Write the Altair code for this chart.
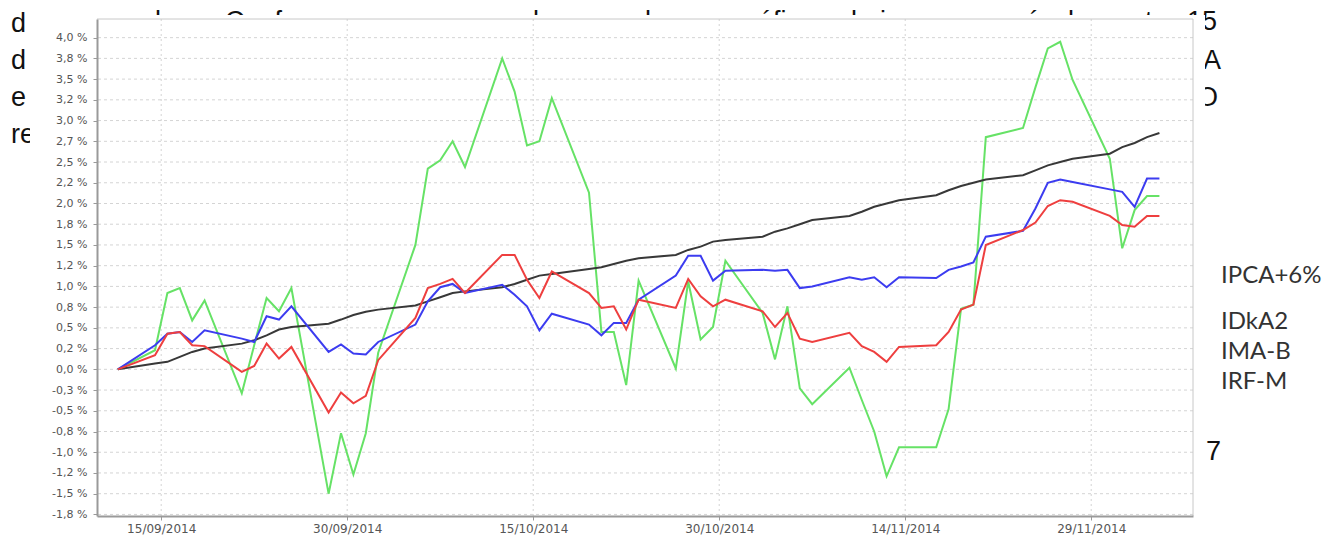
import altair as alt
import pandas as pd

# ---------------- data ----------------
dates = [
    "2014-09-12", "2014-09-15", "2014-09-16", "2014-09-17", "2014-09-18", "2014-09-19",
    "2014-09-22", "2014-09-23", "2014-09-24", "2014-09-25", "2014-09-26",
    "2014-09-29", "2014-09-30", "2014-10-01", "2014-10-02", "2014-10-03",
    "2014-10-06", "2014-10-07", "2014-10-08", "2014-10-09", "2014-10-10",
    "2014-10-13", "2014-10-14", "2014-10-15", "2014-10-16", "2014-10-17",
    "2014-10-20", "2014-10-21", "2014-10-22", "2014-10-23", "2014-10-24",
    "2014-10-27", "2014-10-28", "2014-10-29", "2014-10-30", "2014-10-31",
    "2014-11-03", "2014-11-04", "2014-11-05", "2014-11-06", "2014-11-07",
    "2014-11-10", "2014-11-11", "2014-11-12", "2014-11-13", "2014-11-14",
    "2014-11-17", "2014-11-18", "2014-11-19", "2014-11-20", "2014-11-21",
    "2014-11-24", "2014-11-25", "2014-11-26", "2014-11-27", "2014-11-28",
    "2014-12-01", "2014-12-02", "2014-12-03", "2014-12-04", "2014-12-05",
]

ipca6 = [
    0.00, 0.07, 0.09, 0.15, 0.21, 0.25,
    0.31, 0.35, 0.41, 0.48, 0.51,
    0.55, 0.60, 0.655, 0.695, 0.72,
    0.77, 0.82, 0.87, 0.92, 0.94,
    0.99, 1.03, 1.08, 1.13, 1.15,
    1.21, 1.23, 1.27, 1.31, 1.34,
    1.38, 1.44, 1.48, 1.54, 1.56,
    1.60, 1.66, 1.70, 1.75, 1.80,
    1.85, 1.90, 1.96, 2.00, 2.04,
    2.10, 2.16, 2.21, 2.25, 2.29,
    2.34, 2.40, 2.46, 2.50, 2.54,
    2.60, 2.68, 2.73, 2.80, 2.85,
]

idka2 = [
    0.00, 0.29, 0.43, 0.45, 0.33, 0.47,
    0.37, 0.33, 0.64, 0.60, 0.76,
    0.21, 0.30, 0.19, 0.18, 0.33,
    0.54, 0.82, 0.99, 1.03, 0.92,
    1.02, 0.90, 0.76, 0.47, 0.67,
    0.54, 0.41, 0.56, 0.56, 0.84,
    1.13, 1.37, 1.37, 1.07, 1.19,
    1.20, 1.19, 1.20, 0.98, 1.00,
    1.11, 1.08, 1.11, 0.99, 1.11,
    1.10, 1.20, 1.24, 1.29, 1.60,
    1.67, 1.94, 2.25, 2.29, 2.26,
    2.17, 2.14, 1.96, 2.30, 2.30,
]

imab = [
    0.00, 0.23, 0.92, 0.98, 0.59, 0.83,
    -0.29, 0.29, 0.86, 0.70, 0.98,
    -1.50, -0.77, -1.27, -0.77, 0.20,
    1.50, 2.42, 2.52, 2.75, 2.44,
    3.75, 3.35, 2.70, 2.75, 3.27,
    2.13, 0.45, 0.45, -0.19, 1.07,
    0.01, 1.06, 0.36, 0.51, 1.31,
    0.68, 0.12, 0.76, -0.23, -0.42,
    0.02, -0.37, -0.75, -1.29, -0.94,
    -0.94, -0.48, 0.73, 0.78, 2.80,
    2.91, 3.40, 3.87, 3.95, 3.49,
    2.54, 1.46, 1.92, 2.09, 2.09,
]

irfm = [
    0.00, 0.17, 0.43, 0.45, 0.29, 0.28,
    -0.03, 0.04, 0.31, 0.13, 0.27,
    -0.52, -0.28, -0.41, -0.32, 0.11,
    0.62, 0.98, 1.03, 1.09, 0.92,
    1.38, 1.38, 1.08, 0.86, 1.18,
    0.92, 0.74, 0.76, 0.48, 0.84,
    0.74, 1.09, 0.88, 0.76, 0.84,
    0.70, 0.51, 0.68, 0.37, 0.33,
    0.44, 0.28, 0.21, 0.09, 0.27,
    0.29, 0.45, 0.72, 0.78, 1.50,
    1.68, 1.77, 1.97, 2.04, 2.02,
    1.85, 1.74, 1.72, 1.85, 1.85,
]

series_names = ["IMA-B", "IPCA+6%", "IDkA2", "IRF-M"]
series_values = [imab, ipca6, idka2, irfm]
series_colors = ["#66e266", "#383838", "#3c3cf0", "#ee3f3f"]

legend_labels = ["IPCA+6%", "IDkA2", "IMA-B", "IRF-M"]

y_ticks = [4.0, 3.75, 3.5, 3.25, 3.0, 2.75, 2.5, 2.25, 2.0, 1.75, 1.5, 1.25, 1.0,
           0.75, 0.5, 0.25, 0.0, -0.25, -0.5, -0.75, -1.0, -1.25, -1.5, -1.75]
y_tick_labels = ["4,0 %", "3,8 %", "3,5 %", "3,2 %", "3,0 %", "2,7 %", "2,5 %", "2,2 %",
                 "2,0 %", "1,8 %", "1,5 %", "1,2 %", "1,0 %", "0,8 %", "0,5 %", "0,2 %",
                 "0,0 %", "-0,3 %", "-0,5 %", "-0,8 %", "-1,0 %", "-1,2 %", "-1,5 %", "-1,8 %"]

x_tick_dates = ["2014-09-15T12:00:00", "2014-09-30T12:00:00", "2014-10-15T12:00:00",
                "2014-10-30T12:00:00", "2014-11-14T12:00:00", "2014-11-29T12:00:00"]

# text of the document page that is partly hidden behind the chart picture
doc_top_words = ["lo", "Conforme", "lo", "do", "gráfico", "lo", "i", "é", "do", "te", "15"]
doc_left = ["d", "d", "e", "re"]
doc_right = ["A", "O"]
doc_lower = "7"

# ---------------- build ----------------
W, H = 1096, 497

def dt(s):
    t = pd.Timestamp(s)
    return alt.DateTime(year=t.year, month=t.month, date=t.day, hours=t.hour, minutes=t.minute)

x_scale = alt.Scale(domain=[dt("2014-09-10T07:45:00"), dt("2014-12-07T17:00:00")], nice=False)
y_scale = alt.Scale(domain=[-1.769, 4.225], nice=False, zero=False)

labels_js = "[" + ",".join("'" + s + "'" for s in y_tick_labels) + "]"
ticks_js = "[" + ",".join(repr(v) for v in y_ticks) + "]"

y_axis = alt.Axis(values=y_ticks, labelExpr=f"{labels_js}[indexof({ticks_js}, datum.value)]",
                  title=None, grid=False, zindex=1, domainColor="#9a9a9a", domainWidth=2,
                  tickColor="#9a9a9a", tickSize=4, labelPadding=6, labelColor="#555555",
                  labelFont="DejaVu Sans", labelFontSize=11)
x_axis = alt.Axis(values=[dt(s) for s in x_tick_dates], format="%d/%m/%Y", title=None,
                  grid=False, zindex=1, domainColor="#9a9a9a", domainWidth=2,
                  tickColor="#9a9a9a", tickSize=4, labelPadding=3, labelColor="#555555",
                  labelFont="DejaVu Sans", labelFontSize=12)

base = alt.Chart(pd.DataFrame({"k": [0]}))
DOC = dict(baseline="alphabetic", font="Liberation Sans", fontSize=27, color="#111111")

layers = []

# document text that sits behind the chart picture
top_x = [58, 128, 436, 539, 637, 754, 783, 928, 962, 1048, 1090]
for s, xx in zip(doc_top_words, top_x):
    layers.append(base.mark_text(text=s, align="left", **DOC)
                  .encode(x=alt.value(xx), y=alt.value(11)))
for i, s in enumerate(doc_left):
    layers.append(base.mark_text(text=s, align="left", **DOC)
                  .encode(x=alt.value(-86), y=alt.value(13 + 37 * i)))
for i, s in enumerate(doc_right):
    layers.append(base.mark_text(text=s, align="right", **DOC)
                  .encode(x=alt.value([1124, 1121][i]), y=alt.value(50 + 37 * i)))
layers.append(base.mark_text(text=doc_lower, align="left", **DOC)
              .encode(x=alt.value(1109), y=alt.value(441)))

# white picture of the chart covering the document text
layers.append(base.mark_rect(color="white").encode(
    x=alt.value(-67), x2=alt.value(1108), y=alt.value(-4), y2=alt.value(H + 20)))

# grid
ygrid = alt.Chart(pd.DataFrame({"v": y_ticks})).mark_rule(
    color="#d4d4d4", strokeDash=[3, 3], strokeWidth=1).encode(
    y=alt.Y("v:Q", scale=y_scale, axis=y_axis))
xgrid = alt.Chart(pd.DataFrame({"t": pd.to_datetime(x_tick_dates)})).mark_rule(
    color="#d4d4d4", strokeDash=[2, 3], strokeWidth=1).encode(
    x=alt.X("t:T", scale=x_scale, axis=x_axis))
layers += [ygrid, xgrid]

# frame (top and right)
layers.append(base.mark_rule(color="#c8c8c8", strokeWidth=1).encode(y=alt.value(0)))
layers.append(base.mark_rule(color="#c8c8c8", strokeWidth=1).encode(x=alt.value(W)))

# series
for name, vals, col in zip(series_names, series_values, series_colors):
    df = pd.DataFrame({"date": pd.to_datetime(dates), "value": vals, "serie": name})
    layers.append(alt.Chart(df).mark_line(color=col, strokeWidth=2).encode(
        x=alt.X("date:T", scale=x_scale, axis=x_axis),
        y=alt.Y("value:Q", scale=y_scale, axis=y_axis)))

# legend labels (picture to the right)
for s, yy in zip(legend_labels, [264, 310, 340, 370]):
    layers.append(base.mark_text(text=s, align="left", baseline="alphabetic",
                                 font="Lato", fontSize=24, color="#333333")
                  .encode(x=alt.value(1124), y=alt.value(yy)))

chart = alt.layer(*layers).properties(
    width=W, height=H,
    autosize=alt.AutoSizeParams(type="none"),
    padding={"left": 89, "top": 11, "right": 140, "bottom": 19},
    background="white",
).configure_view(stroke=None)

chart.save("out.html", embed_options={"renderer": "svg", "actions": False})
